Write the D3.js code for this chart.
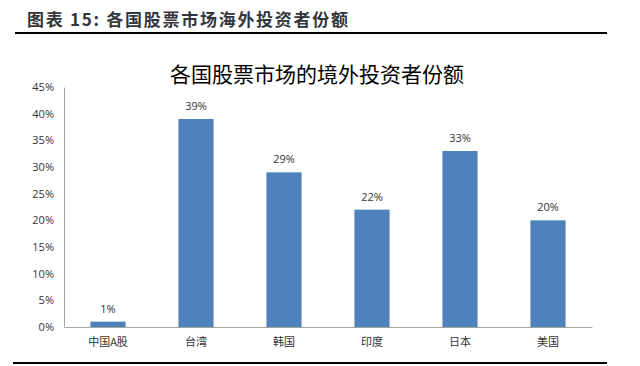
<!DOCTYPE html>
<html>
<head>
<meta charset="utf-8">
<script src="https://cdn.jsdelivr.net/npm/d3@7"></script>
<style>
  body { margin: 0; background: #fff; }
  svg { display: block; }
</style>
</head>
<body>
<script>
var categories = ["中国A股", "台湾", "韩国", "印度", "日本", "美国"];
var shares = [1, 39, 29, 22, 33, 20];
var yTicks = [0, 5, 10, 15, 20, 25, 30, 35, 40, 45];

var W = 640, H = 366;
var cjk = "'Noto Sans CJK SC', sans-serif";

var svg = d3.select("body").append("svg")
    .attr("width", W)
    .attr("height", H);

// header
svg.append("text")
    .attr("x", 27).attr("y", 26)
    .attr("font-family", cjk)
    .attr("font-size", 17)
    .attr("font-weight", "bold")
    .attr("fill", "#33363d")
    .attr("textLength", 321)
    .attr("lengthAdjust", "spacing")
    .text("图表 15: 各国股票市场海外投资者份额");

svg.append("line")
    .attr("x1", 15).attr("x2", 607)
    .attr("y1", 33).attr("y2", 33)
    .attr("stroke", "#000").attr("stroke-width", 2);

svg.append("line")
    .attr("x1", 13).attr("x2", 607)
    .attr("y1", 363).attr("y2", 363)
    .attr("stroke", "#000").attr("stroke-width", 2);

// chart title
svg.append("text")
    .attr("x", 317).attr("y", 82)
    .attr("text-anchor", "middle")
    .attr("font-family", cjk)
    .attr("font-size", 21)
    .attr("fill", "#000")
    .text("各国股票市场的境外投资者份额");

var x = d3.scaleBand().domain(categories).range([64, 592]).paddingInner(0.6).paddingOuter(0.3);
var y = d3.scaleLinear().domain([0, 45]).range([327, 87]);

// y axis
var gy = svg.append("g")
    .attr("transform", "translate(64,0)")
    .call(d3.axisLeft(y).tickValues(yTicks).tickSize(0).tickPadding(10)
        .tickFormat(function(d) { return d + "%"; }));
gy.select(".domain").attr("stroke", "#a6a6a6");
gy.selectAll("text")
    .attr("font-family", "'Open Sans', sans-serif")
    .attr("font-size", 11)
    .attr("fill", "#333");

// x axis
var gx = svg.append("g")
    .attr("transform", "translate(0,327)")
    .call(d3.axisBottom(x).tickSize(0).tickPadding(11));
gx.select(".domain").attr("stroke", "#a6a6a6");
gx.selectAll("text")
    .attr("font-family", cjk)
    .attr("font-size", 11)
    .attr("fill", "#333");

// bars
svg.selectAll(".bar")
    .data(shares)
    .enter().append("rect")
    .attr("class", "bar")
    .attr("x", function(d, i) { return x(categories[i]); })
    .attr("y", function(d) { return y(d); })
    .attr("width", x.bandwidth())
    .attr("height", function(d) { return y(0) - y(d); })
    .attr("fill", "#4f81bd");

svg.selectAll(".lbl")
    .data(shares)
    .enter().append("text")
    .attr("class", "lbl")
    .attr("x", function(d, i) { return x(categories[i]) + x.bandwidth() / 2; })
    .attr("y", function(d) { return y(d) - 9; })
    .attr("text-anchor", "middle")
    .attr("font-family", "'Open Sans', sans-serif")
    .attr("font-size", 11)
    .attr("fill", "#333")
    .text(function(d) { return d + "%"; });
</script>
</body>
</html>
